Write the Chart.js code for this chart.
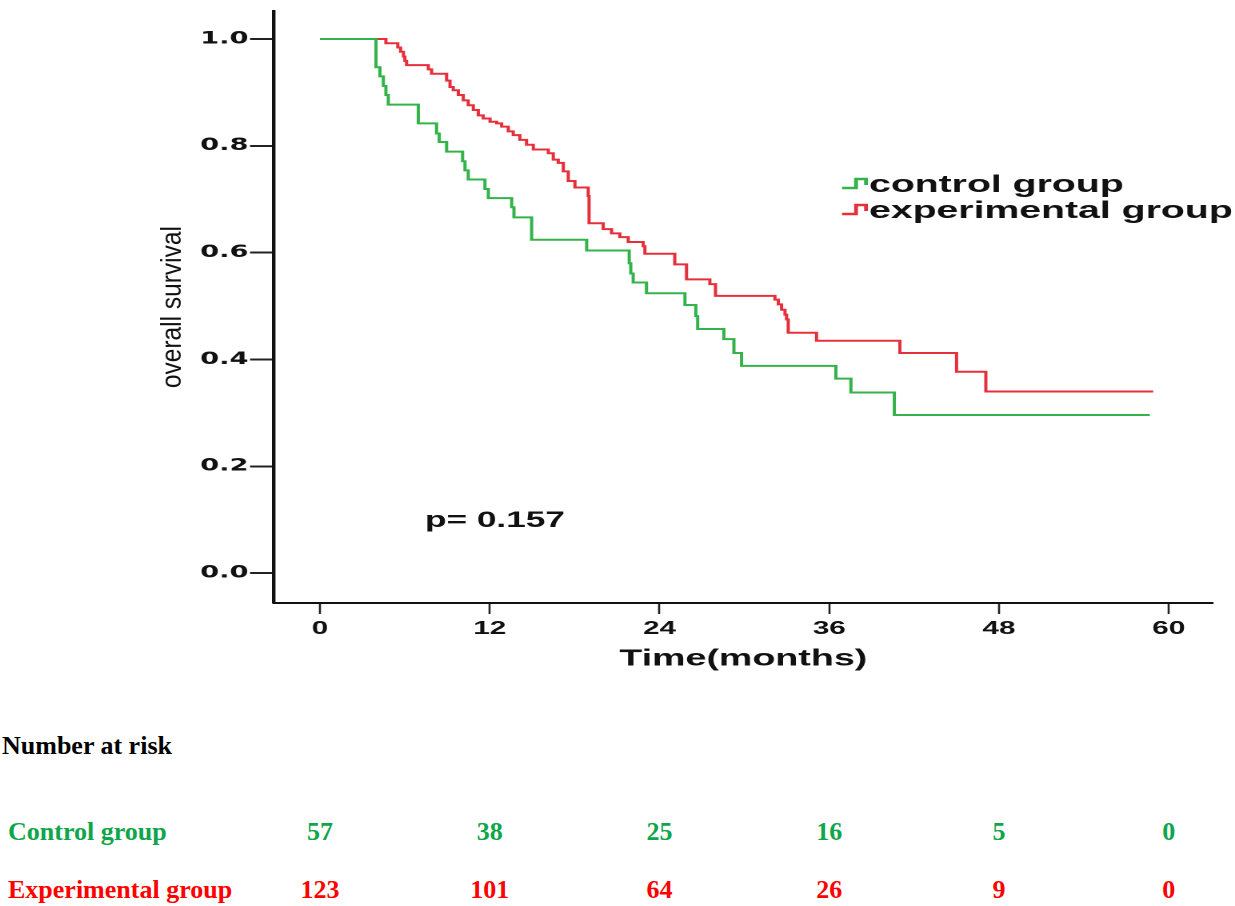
<!DOCTYPE html>
<html>
<head>
<meta charset="utf-8">
<title>Overall survival by group</title>
<script src="https://cdn.jsdelivr.net/npm/chart.js@4.4.1/dist/chart.umd.min.js"></script>
<style>
  html, body { margin: 0; padding: 0; background: #fff; }
  #page { position: relative; width: 1235px; height: 906px; overflow: hidden; background: #fff; }
  /* the plot in the source figure is stretched sideways, so we draw it narrow and scale it */
  #plot { position: absolute; left: 0; top: 0; width: 772px; height: 690px; transform-origin: 0 0; }
  .risk { position: absolute; font-family: 'Liberation Serif', 'Times New Roman', serif; font-weight: bold;
          font-size: 26px; line-height: 30px; white-space: nowrap; }
  .num { transform: translateX(-50%); }
</style>
</head>
<body>
<div id="page">
  <div id="plot"><canvas id="km-chart"></canvas></div>
  <div id="risk-table"></div>
</div>
<script>
/* Kaplan-Meier curves, values (time in months, survival) */
const controlTimes = [0, 3.96, 4.24, 4.48, 4.66, 4.83, 6.95, 8.24, 8.43, 8.95, 10.08, 10.25, 10.48,
  11.66, 11.9, 13.55, 13.71, 14.96, 18.85, 21.86, 21.97, 22.14, 23.08, 25.8, 26.57, 26.7, 28.55,
  29.26, 29.8, 36.47, 37.53, 40.6, 58.66];
const controlSurvival = [1.0, 0.947, 0.930, 0.912, 0.895, 0.877, 0.842, 0.823, 0.807, 0.789, 0.771,
  0.754, 0.737, 0.719, 0.702, 0.685, 0.666, 0.624, 0.604, 0.580, 0.561, 0.544, 0.524, 0.502, 0.481,
  0.457, 0.438, 0.412, 0.388, 0.364, 0.338, 0.296, 0.296];

const experimentalTimes = [0, 4.66, 5.5, 5.7, 5.9, 6.0, 6.12, 7.66, 7.89, 8.95, 9.19, 9.42, 9.78,
  10.13, 10.48, 10.84, 11.19, 11.54, 12.02, 12.49, 12.84, 13.31, 13.66, 14.13, 14.6, 15.08, 16.14,
  16.49, 16.84, 17.2, 17.55, 18.02, 18.96, 19.02, 20.02, 20.61, 21.2, 21.79, 22.85, 22.97, 25.08,
  25.91, 27.56, 27.96, 32.16, 32.4, 32.63, 32.87, 32.98, 33.1, 35.1, 40.99, 45.0, 47.07, 58.9];
const experimentalSurvival = [1.0, 0.992, 0.984, 0.976, 0.967, 0.959, 0.951, 0.943, 0.935, 0.922,
  0.910, 0.904, 0.895, 0.885, 0.876, 0.867, 0.857, 0.851, 0.845, 0.842, 0.836, 0.827, 0.820, 0.811,
  0.802, 0.793, 0.786, 0.774, 0.768, 0.752, 0.734, 0.722, 0.706, 0.655, 0.644, 0.636, 0.629, 0.620,
  0.612, 0.598, 0.578, 0.550, 0.541, 0.519, 0.512, 0.503, 0.493, 0.484, 0.475, 0.450, 0.435, 0.412,
  0.377, 0.340, 0.340];

const seriesLabels = ['control group', 'experimental group'];
const seriesColors = ['#34b34a', '#e5303b'];

const xTicks = [0, 12, 24, 36, 48, 60];
const yTicks = [0, 0.2, 0.4, 0.6, 0.8, 1.0];

/* number at risk table */
const riskTimes = [0, 12, 24, 36, 48, 60];
const riskGroups = ['Control group', 'Experimental group'];
const controlAtRisk = [57, 38, 25, 16, 5, 0];
const experimentalAtRisk = [123, 101, 64, 26, 9, 0];
const riskColors = ['#0fa64b', '#ff0000'];

const pValueText = 'p= 0.157';

const plotDiv = document.getElementById('plot');
const stretch = 1235 / plotDiv.offsetWidth;
plotDiv.style.transform = `scaleX(${stretch})`;

function toPoints(times, values) {
  return times.map((t, i) => ({ x: t, y: values[i] }));
}

/* number at risk table as html text; the columns get placed from the x scale */
const riskCells = [];
(function buildRiskTable() {
  const table = document.getElementById('risk-table');
  function addText(text, left, top, color, centred) {
    const el = document.createElement('div');
    el.className = centred ? 'risk num' : 'risk';
    el.textContent = text;
    el.style.left = left + 'px';
    el.style.top = top + 'px';
    el.style.color = color;
    table.appendChild(el);
    return el;
  }
  addText('Number at risk', 2, 731, '#000', false);
  const rows = [controlAtRisk, experimentalAtRisk];
  const rowTops = [817, 875];
  rows.forEach((counts, r) => {
    addText(riskGroups[r], 8, rowTops[r], riskColors[r], false);
    counts.forEach((n, i) => {
      riskCells.push({ el: addText(String(n), 0, rowTops[r], riskColors[r], true), t: riskTimes[i] });
    });
  });
})();

/* legend, p value and rotated y title, drawn on top of the chart */
const extras = {
  id: 'extras',
  afterDraw(chart) {
    const ctx = chart.ctx;
    const area = chart.chartArea;
    ctx.save();

    // y axis title, mostly un-stretched so it keeps tall narrow letters
    ctx.save();
    ctx.translate(173 / stretch, (area.top + area.bottom) / 2);
    ctx.scale(1.15 / stretch, 1);
    ctx.rotate(-Math.PI / 2);
    ctx.font = '24.5px "Liberation Sans", Arial, sans-serif';
    ctx.fillStyle = '#111';
    ctx.textAlign = 'center';
    ctx.textBaseline = 'middle';
    ctx.fillText('overall survival', 0, 0);
    ctx.restore();

    // p value
    ctx.font = 'bold 22px "Liberation Sans", Arial, sans-serif';
    ctx.fillStyle = '#111';
    ctx.textAlign = 'left';
    ctx.textBaseline = 'alphabetic';
    ctx.fillText(pValueText, 425 / stretch, 527);

    // legend with step icons
    const baselines = [192, 218];
    seriesLabels.forEach((label, i) => {
      const b = baselines[i];
      const mid = b - 8;
      ctx.strokeStyle = seriesColors[i];
      ctx.lineWidth = 2.4;
      ctx.beginPath();
      ctx.moveTo(842 / stretch, mid + 4);
      ctx.lineTo(856 / stretch, mid + 4);
      ctx.lineTo(856 / stretch, mid - 5);
      ctx.lineTo(866 / stretch, mid - 5);
      ctx.lineTo(866 / stretch, mid + 1);
      ctx.stroke();
      ctx.font = 'bold 24.5px "Liberation Sans", Arial, sans-serif';
      ctx.fillStyle = '#111';
      ctx.fillText(label, 869 / stretch, b);
    });
    ctx.restore();

    // line the risk numbers up under the ticks
    const xScale = chart.scales.x;
    riskCells.forEach((c) => {
      c.el.style.left = (xScale.getPixelForValue(c.t) * stretch) + 'px';
    });
  }
};

const config = {
  type: 'line',
  data: {
    datasets: [
      {
        label: seriesLabels[0],
        data: toPoints(controlTimes, controlSurvival),
        borderColor: seriesColors[0],
        borderWidth: 2,
        stepped: 'before',
        pointRadius: 0,
        fill: false,
      },
      {
        label: seriesLabels[1],
        data: toPoints(experimentalTimes, experimentalSurvival),
        borderColor: seriesColors[1],
        borderWidth: 2,
        stepped: 'before',
        pointRadius: 0,
        fill: false,
      },
    ],
  },
  options: {
    responsive: true,
    maintainAspectRatio: false,
    animation: false,
    devicePixelRatio: 2,
    layout: { padding: { top: 5, right: 14, left: 0, bottom: 0 } },
    plugins: {
      legend: { display: false },
      tooltip: { enabled: false },
    },
    scales: {
      x: {
        type: 'linear',
        min: -3.25,
        max: 63.1,
        afterBuildTicks: (scale) => { scale.ticks = xTicks.map((v) => ({ value: v })); },
        afterFit: (scale) => { scale.height = 87; },
        ticks: {
          autoSkip: false,
          maxRotation: 0,
          padding: 4,
          color: '#111',
          font: { family: '"Liberation Sans", Arial, sans-serif', weight: 'bold', size: 18.5 },
        },
        grid: {
          display: true,
          drawOnChartArea: false,
          drawTicks: true,
          tickLength: 11,
          tickWidth: 1.3,
          tickColor: '#222',
        },
        border: { display: true, color: '#111', width: 2 },
        title: {
          display: true,
          text: 'Time(months)',
          color: '#111',
          font: { family: '"Liberation Sans", Arial, sans-serif', weight: 'bold', size: 23.5 },
          padding: { top: 0, bottom: 17 },
        },
      },
      y: {
        type: 'linear',
        min: -0.056,
        max: 1.052,
        afterBuildTicks: (scale) => { scale.ticks = yTicks.map((v) => ({ value: v })); },
        afterFit: (scale) => { scale.width = 274 / stretch; },
        ticks: {
          padding: 1,
          color: '#111',
          callback: (v) => v.toFixed(1),
          font: { family: '"DejaVu Sans", Verdana, sans-serif', weight: 'bold', size: 17 },
        },
        grid: {
          display: true,
          drawOnChartArea: false,
          drawTicks: true,
          tickLength: 15,
          tickWidth: 2,
          tickColor: '#222',
        },
        border: { display: true, color: '#111', width: 2.2 },
      },
    },
  },
  plugins: [extras],
};

new Chart(document.getElementById('km-chart'), config);
</script>
</body>
</html>
